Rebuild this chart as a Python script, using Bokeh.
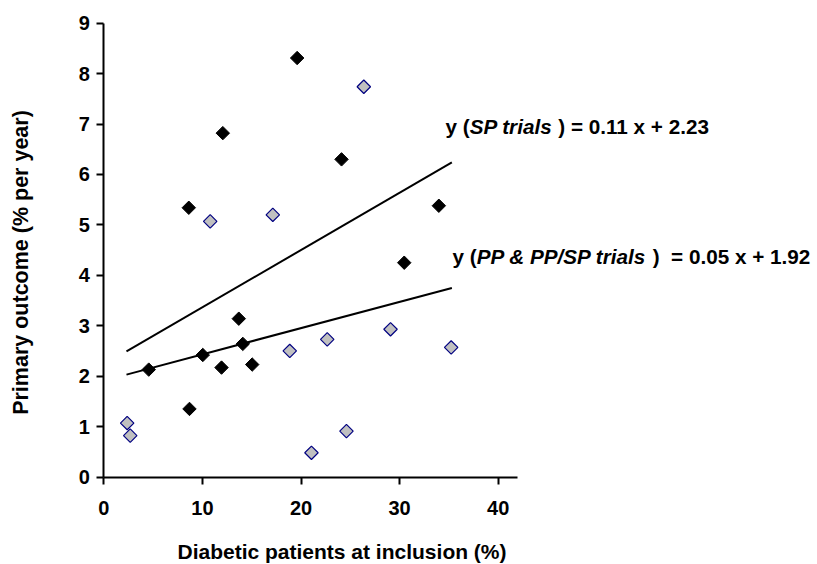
import numpy as np
from bokeh.plotting import figure
from bokeh.models import Label, Range1d
from bokeh.embed import file_html
from bokeh.resources import INLINE

# ---- data ----
sp_x = [8.62, 12.07, 19.61, 24.11, 33.98, 30.47, 4.56, 8.69, 10.04, 11.94, 13.69, 14.10, 15.05]
sp_y = [5.34, 6.82, 8.31, 6.30, 5.38, 4.25, 2.13, 1.35, 2.42, 2.17, 3.14, 2.64, 2.23]

pp_x = [10.79, 17.14, 26.37, 2.37, 2.68, 18.86, 22.66, 21.06, 24.61, 29.08, 35.23]
pp_y = [5.07, 5.20, 7.74, 1.07, 0.82, 2.50, 2.73, 0.48, 0.91, 2.93, 2.57]

fit_x = [2.3, 35.3]
sp_fit_y = [2.49, 6.24]
pp_fit_y = [2.03, 3.75]

x_ticks = [0, 10, 20, 30, 40]
y_ticks = [0, 1, 2, 3, 4, 5, 6, 7, 8, 9]
x_bounds = (0, 42)
y_bounds = (0, 9)

x_title = "Diabetic patients at inclusion (%)"
y_title = "Primary outcome (% per year)"

# equation texts: (text piece, italic)
eq_sp = [("y (", False), ("SP trials ", True), (") = 0.11 x + 2.23", False)]
eq_pp = [("y (", False), ("PP & PP/SP trials ", True), (")", False), ("  = 0.05 x + 1.92", False)]

# ---- layout (pixels in the 817x564 page) ----
WIDTH, HEIGHT = 817, 564
X0_PX, Y0_PX = 103.3, 476.5      # pixel of the data origin
PX_PER_X, PX_PER_Y = 9.86, 50.42

FONT = "Liberation Sans"
EQ_SIZE = 20.7

# Arial/Liberation Sans Bold advance widths (per 1000 em)
W = {' ': 278, '(': 333, ')': 333, '&': 722, '/': 278, '=': 584, '+': 584, '.': 278,
     'x': 556, 'y': 556, 't': 333, 'r': 389, 'i': 278, 'a': 556, 'l': 278, 's': 556,
     'S': 667, 'P': 667}
for d in "0123456789":
    W[d] = 556


def text_width(s, size):
    return sum(W.get(c, 556) for c in s) * size / 1000.0


def px2data(xp, yp):
    return (xp - X0_PX) / PX_PER_X, (Y0_PX - yp) / PX_PER_Y


x_lo, y_hi = px2data(0, 0)
x_hi, y_lo = px2data(WIDTH, HEIGHT)

p = figure(width=WIDTH, height=HEIGHT,
           x_range=Range1d(x_lo, x_hi), y_range=Range1d(y_lo, y_hi),
           output_backend="svg", toolbar_location=None)
p.min_border = 0
p.min_border_left = p.min_border_right = p.min_border_top = p.min_border_bottom = 0
p.outline_line_color = None
p.grid.visible = False
p.background_fill_color = "white"
p.border_fill_color = "white"

for ax in (p.xaxis[0], p.yaxis[0]):
    ax.fixed_location = 0
    ax.axis_line_width = 2
    ax.axis_line_color = "black"
    ax.major_tick_line_width = 2
    ax.major_tick_line_color = "black"
    ax.major_tick_out = 7
    ax.major_tick_in = 0
    ax.minor_tick_line_color = None
    ax.major_label_text_font = FONT
    ax.major_label_text_font_style = "bold"
    ax.major_label_text_font_size = "20px"
    ax.major_label_text_color = "black"

p.xaxis.bounds = x_bounds
p.yaxis.bounds = y_bounds
p.xaxis.ticker = x_ticks
p.yaxis.ticker = y_ticks
p.xaxis.major_label_standoff = 17
p.yaxis.major_label_standoff = 7

# regression lines
p.line(fit_x, sp_fit_y, line_color="black", line_width=2)
p.line(fit_x, pp_fit_y, line_color="black", line_width=2)

# points
p.scatter(pp_x, pp_y, marker="square", size=9.5, angle=np.pi / 4,
          fill_color="#C0C0C0", line_color="#000080", line_width=1.2)
p.scatter(sp_x, sp_y, marker="square", size=9.5, angle=np.pi / 4,
          fill_color="black", line_color="black", line_width=1)

# axis titles
tx, ty = px2data(341.5, 551)
p.add_layout(Label(x=tx, y=ty, text=x_title, text_font=FONT, text_font_size="21px",
                   text_font_style="bold", text_color="black",
                   text_align="center", text_baseline="alphabetic"))
tx, ty = px2data(20, 262)
p.add_layout(Label(x=tx, y=ty, text=y_title, text_font=FONT, text_font_size="21.5px",
                   text_font_style="bold", text_color="black", angle=np.pi / 2,
                   text_align="center", text_baseline="middle"))


def add_equation(pieces, xp, yp):
    x, y = px2data(xp, yp)
    before = ""
    for txt, ital in pieces:
        lead = len(txt) - len(txt.lstrip(" "))
        off = text_width(before + txt[:lead], EQ_SIZE)
        p.add_layout(Label(x=x, y=y, x_offset=off, text=txt.strip(" "),
                           text_font=FONT, text_font_size=f"{EQ_SIZE}px",
                           text_font_style="bold italic" if ital else "bold",
                           text_color="black", text_baseline="alphabetic",
                           text_align="left"))
        before += txt


add_equation(eq_sp, 445, 126)
add_equation(eq_pp, 452, 256)

open("out.html", "w").write(file_html(p, INLINE))
